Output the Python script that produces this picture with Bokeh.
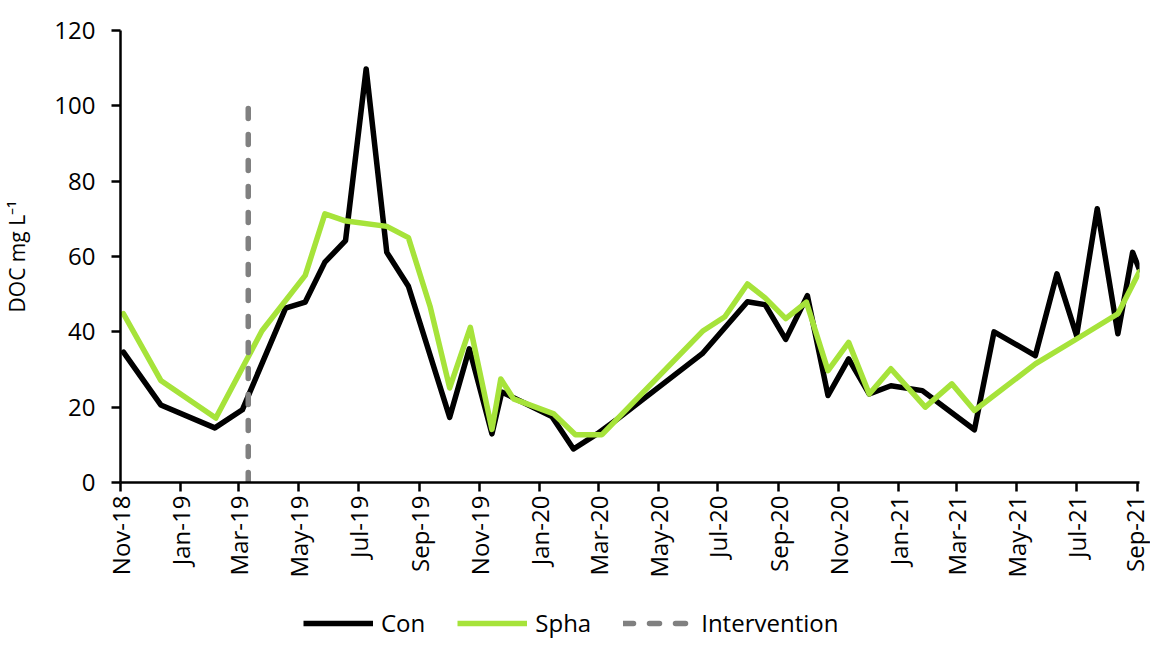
import pandas as pd
import math
from bokeh.plotting import figure
from bokeh.layouts import column
from bokeh.models import (Range1d, FixedTicker, DatetimeTickFormatter, Legend,
                          LegendItem, ColumnDataSource)
from bokeh.embed import file_html
from bokeh.resources import INLINE

# ---- data ----
con_dates = ["2018-11-04", "2018-12-12", "2019-02-05", "2019-03-05", "2019-04-18",
             "2019-05-08", "2019-05-28", "2019-06-18", "2019-07-09", "2019-07-30",
             "2019-08-21", "2019-10-02", "2019-10-22", "2019-11-14", "2019-11-24",
             "2019-12-06", "2020-01-14", "2020-02-05", "2020-02-29", "2020-03-19",
             "2020-06-15", "2020-07-31", "2020-08-18", "2020-09-08", "2020-09-30",
             "2020-10-21", "2020-11-11", "2020-12-02", "2020-12-24", "2021-01-25",
             "2021-03-19", "2021-04-08", "2021-05-20", "2021-06-11", "2021-07-01",
             "2021-07-22", "2021-08-12", "2021-08-27", "2021-09-03"]
con_vals = [34.6, 20.6, 14.5, 19.3, 46.3, 47.9, 58.5, 64.2, 109.8, 61.1,
            52.1, 17.3, 35.5, 12.9, 24.0, 22.5, 17.5, 8.9, 12.9, 16.5,
            34.2, 48.0, 47.2, 38.0, 49.6, 23.1, 32.8, 23.5, 25.7, 24.4,
            14.0, 40.0, 33.7, 55.4, 39.0, 72.7, 39.5, 61.1, 56.5]

spha_dates = ["2018-11-04", "2018-12-12", "2019-02-06", "2019-03-25", "2019-05-08",
              "2019-05-28", "2019-06-17", "2019-07-30", "2019-08-21", "2019-09-12",
              "2019-10-02", "2019-10-23", "2019-11-14", "2019-11-23", "2019-12-06",
              "2020-01-16", "2020-02-07", "2020-03-05", "2020-06-16", "2020-07-08",
              "2020-07-31", "2020-08-18", "2020-09-08", "2020-09-29", "2020-10-21",
              "2020-11-11", "2020-12-02", "2020-12-24", "2021-01-28", "2021-02-24",
              "2021-03-19", "2021-05-20", "2021-07-01", "2021-08-12", "2021-09-03"]
spha_vals = [44.8, 27.1, 17.1, 40.3, 55.0, 71.3, 69.5, 68.0, 65.0, 46.8,
             25.1, 41.2, 14.1, 27.5, 22.2, 18.2, 12.7, 12.7, 40.3, 44.0,
             52.7, 49.0, 43.5, 47.9, 29.7, 37.2, 23.5, 30.2, 20.0, 26.2,
             19.1, 31.5, 38.1, 44.8, 56.0]

intervention_dates = ["2019-03-11", "2019-03-11"]
intervention_vals = [0, 100]

tick_dates = ["2018-11-01", "2019-01-01", "2019-03-01", "2019-05-01", "2019-07-01",
              "2019-09-01", "2019-11-01", "2020-01-01", "2020-03-01", "2020-05-01",
              "2020-07-01", "2020-09-01", "2020-11-01", "2021-01-01", "2021-03-01",
              "2021-05-01", "2021-07-01", "2021-09-01"]
y_ticks = [0, 20, 40, 60, 80, 100, 120]
series_names = ["Con", "Spha", "Intervention"]

FONT = "Open Sans"
CON_COLOR = "black"
SPHA_COLOR = "#A6E33A"
INT_COLOR = "#808080"
INT_DASH = "10 16"
LW = 5.5


def ms(d):
    return pd.Timestamp(d).value // 10**6


con_src = ColumnDataSource(dict(x=pd.to_datetime(con_dates), y=con_vals))
spha_src = ColumnDataSource(dict(x=pd.to_datetime(spha_dates), y=spha_vals))
int_src = ColumnDataSource(dict(x=pd.to_datetime(intervention_dates), y=intervention_vals))

p = figure(width=1150, height=588, output_backend="svg", toolbar_location=None,
           x_axis_type="datetime",
           x_range=Range1d(ms("2018-11-01"), ms("2021-09-03")),
           y_range=Range1d(0, 120),
           min_border_left=114, min_border_right=11, min_border_top=30,
           min_border_bottom=106)
p.outline_line_color = None
p.grid.visible = False
p.background_fill_color = "white"
p.border_fill_color = "white"

p.line("x", "y", source=con_src, line_color=CON_COLOR, line_width=LW,
       line_join="round", line_cap="round")
p.line("x", "y", source=spha_src, line_color=SPHA_COLOR, line_width=LW,
       line_join="round", line_cap="round")
p.line("x", "y", source=int_src, line_color=INT_COLOR, line_width=LW,
       line_dash=INT_DASH, line_cap="round")

# axes
xa = p.xaxis[0]
xa.ticker = FixedTicker(ticks=[ms(d) for d in tick_dates])
fmt = "%b-%y"
xa.formatter = DatetimeTickFormatter(microseconds=fmt, milliseconds=fmt, seconds=fmt,
                                     minsec=fmt, minutes=fmt, hourmin=fmt, hours=fmt,
                                     days=fmt, months=fmt, years=fmt)
xa.major_label_orientation = math.pi / 2
xa.major_label_text_font = FONT
xa.major_label_text_font_size = "24px"
xa.major_label_text_color = "black"
xa.major_label_standoff = 4
xa.axis_line_color = "black"
xa.axis_line_width = 2.5
xa.major_tick_line_color = "black"
xa.major_tick_line_width = 2.5
xa.major_tick_out = 9
xa.major_tick_in = 0
xa.minor_tick_line_color = None

ya = p.yaxis[0]
ya.ticker = FixedTicker(ticks=y_ticks)
ya.major_label_text_font = FONT
ya.major_label_text_font_size = "24px"
ya.major_label_text_color = "black"
ya.major_label_standoff = 16
ya.axis_line_color = "black"
ya.axis_line_width = 2.5
ya.major_tick_line_color = "black"
ya.major_tick_line_width = 2.5
ya.major_tick_out = 9
ya.major_tick_in = 0
ya.minor_tick_line_color = None
ya.axis_label = "DOC mg L\u207b\u00b9"
ya.axis_label_text_font = FONT
ya.axis_label_text_font_size = "21px"
ya.axis_label_text_font_style = "normal"
ya.axis_label_text_color = "black"
ya.axis_label_standoff = 20

# ---- legend strip below the chart (swatches only, no data drawn) ----
lg = figure(width=1150, height=52, output_backend="svg", toolbar_location=None,
            x_axis_location=None, y_axis_location=None,
            x_range=Range1d(0, 1), y_range=Range1d(0, 1), min_border=0)
lg.outline_line_color = None
lg.grid.visible = False
lg.border_fill_color = "white"
lg.background_fill_color = "white"
nan = float("nan")
k_con = lg.line(x=[nan], y=[nan], line_color=CON_COLOR, line_width=LW)
k_spha = lg.line(x=[nan], y=[nan], line_color=SPHA_COLOR, line_width=LW)
k_int = lg.line(x=[nan], y=[nan], line_color=INT_COLOR, line_width=LW,
                line_dash=INT_DASH, line_cap="round")
legend = Legend(items=[LegendItem(label=series_names[0], renderers=[k_con]),
                       LegendItem(label=series_names[1], renderers=[k_spha]),
                       LegendItem(label=series_names[2], renderers=[k_int])],
                orientation="horizontal", location=(183, 1),
                glyph_width=70, glyph_height=20, label_standoff=8, spacing=32,
                padding=0, margin=0, border_line_color=None,
                background_fill_alpha=0,
                label_text_font=FONT, label_text_font_size="24px",
                label_text_color="black")
lg.add_layout(legend, "center")

layout = column(p, lg, spacing=0)
open("out.html", "w").write(file_html(layout, INLINE))
